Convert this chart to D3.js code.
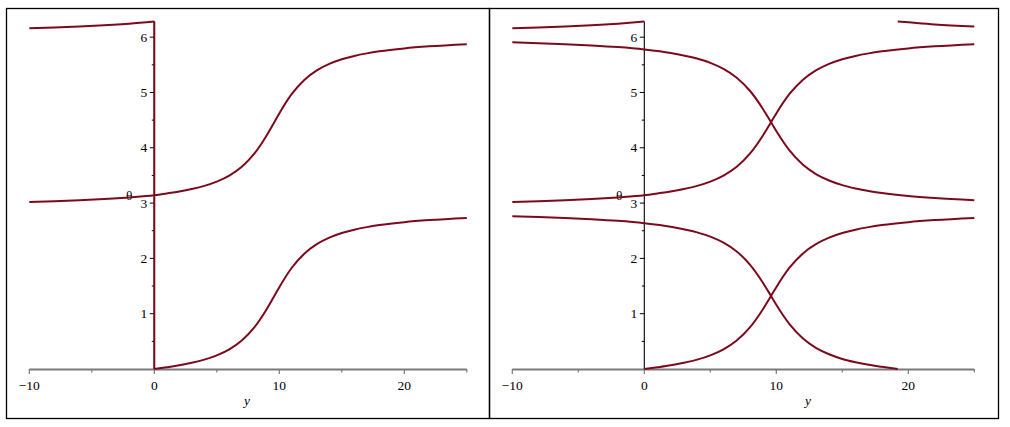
<!DOCTYPE html>
<html><head><meta charset="utf-8">
<script src="https://cdn.jsdelivr.net/npm/d3@7/dist/d3.min.js"></script>
<style>html,body{margin:0;padding:0;background:#fff;}svg{display:block;}</style>
</head><body>
<script>
// ---- data (y, theta) ----
const xTicks = [-10, 0, 10, 20];
const xMinor = [-5, 5, 15, 25];
const yTicks = [1, 2, 3, 4, 5, 6];
const yMinor = [0.5, 1.5, 2.5, 3.5, 4.5, 5.5];

// rising branch near 2π for y<0
const A_y = [-10, -8, -6, -4, -2, 0];
const A_t = [6.159, 6.173, 6.191, 6.214, 6.244, 6.283];
// rising branch through π
const B_y = [-10, -8, -6, -4, -2, 0, 1, 2, 3, 4, 5, 6, 7, 8, 9, 9.6, 10, 11, 12, 13, 14, 15, 16, 17, 18, 20, 22, 25];
const B_t = [3.018, 3.032, 3.050, 3.073, 3.103, 3.142, 3.174, 3.209, 3.254, 3.311, 3.389, 3.498, 3.657, 3.893, 4.227, 4.462, 4.621, 4.973, 5.227, 5.399, 5.516, 5.600, 5.661, 5.707, 5.744, 5.797, 5.834, 5.872];
// rising branch from 0
const C_y = [0, 1, 2, 3, 4, 5, 6, 7, 8, 9, 9.6, 10, 11, 12, 13, 14, 15, 16, 17, 18, 20, 22, 25];
const C_t = [0.000, 0.032, 0.067, 0.112, 0.169, 0.247, 0.356, 0.515, 0.751, 1.085, 1.320, 1.479, 1.831, 2.085, 2.257, 2.374, 2.458, 2.519, 2.565, 2.602, 2.655, 2.692, 2.730];
// falling branch down to 0
const D_y = [-10, -8, -6, -4, -2, 0, 2, 4, 5, 6, 7, 8, 9, 9.6, 10, 11, 12, 13, 14, 15, 16, 17, 18, 19.2];
const D_t = [2.764, 2.750, 2.732, 2.709, 2.679, 2.636, 2.573, 2.471, 2.393, 2.284, 2.125, 1.889, 1.556, 1.320, 1.161, 0.810, 0.555, 0.383, 0.266, 0.182, 0.122, 0.075, 0.039, 0.000];
// falling branch through π
const E_y = [-10, -8, -6, -4, -2, 0, 2, 4, 5, 6, 7, 8, 9, 9.6, 10, 11, 12, 13, 14, 15, 16, 17, 18, 20, 22, 25];
const E_t = [5.906, 5.892, 5.874, 5.851, 5.821, 5.778, 5.715, 5.613, 5.535, 5.426, 5.267, 5.031, 4.698, 4.462, 4.303, 3.952, 3.697, 3.525, 3.408, 3.324, 3.264, 3.217, 3.181, 3.127, 3.090, 3.052];
// falling branch near 2π after y≈19.2
const F_y = [19.2, 20, 22, 25];
const F_t = [6.283, 6.268, 6.231, 6.193];
// jump of the left-hand solution at y = 0
const J_y = [0, 0];
const J_t = [6.283, 0];

const W = 1010, H = 427;
const RED = "#7c0a1c";
const svg = d3.select("body").append("svg").attr("width", W).attr("height", H);

const zip = (a, b) => a.map((v, i) => [v, b[i]]);

function panel(opts) {
  const g = svg.append("g");
  g.append("rect").attr("x", opts.bx0 + 0.5).attr("y", 8.5)
    .attr("width", opts.bx1 - opts.bx0).attr("height", 410)
    .attr("fill", "none").attr("stroke", "#000").attr("stroke-width", 1.3);
  const x = d3.scaleLinear().domain([-10, 25]).range(opts.xr);
  const y = d3.scaleLinear().domain([0, 2 * Math.PI]).range([369, 21.5]);
  const x0 = x(0);

  // x axis
  g.append("line").attr("x1", x(-10)).attr("x2", x(25)).attr("y1", 369.5).attr("y2", 369.5)
    .attr("stroke", "#7a7a7a").attr("stroke-width", 2);
  xTicks.forEach(t => {
    g.append("line").attr("x1", x(t)).attr("x2", x(t)).attr("y1", 369).attr("y2", 374)
      .attr("stroke", "#7a7a7a").attr("stroke-width", 1.2);
    g.append("text").attr("x", x(t)).attr("y", 390).attr("text-anchor", "middle")
      .attr("font-family", "Liberation Serif").attr("font-size", 13.5).attr("fill", "#000")
      .text(t < 0 ? "\u2212" + Math.abs(t) : t);
  });
  xMinor.forEach(t => {
    g.append("line").attr("x1", x(t)).attr("x2", x(t)).attr("y1", 369).attr("y2", 372.5)
      .attr("stroke", "#7a7a7a").attr("stroke-width", 1.2);
  });
  g.append("text").attr("x", opts.labelX).attr("y", 405).attr("text-anchor", "middle")
    .attr("font-family", "Liberation Serif").attr("font-style", "italic").attr("font-size", 13.5)
    .text("y");

  // y axis
  g.append("line").attr("x1", x0).attr("x2", x0).attr("y1", y(0)).attr("y2", y(2 * Math.PI))
    .attr("stroke", "#000").attr("stroke-width", 1.1);
  yTicks.forEach(t => {
    g.append("line").attr("x1", x0 - 4.5).attr("x2", x0).attr("y1", y(t)).attr("y2", y(t))
      .attr("stroke", "#000").attr("stroke-width", 1);
    g.append("text").attr("x", x0 - 7).attr("y", y(t) + 4.5).attr("text-anchor", "end")
      .attr("font-family", "Liberation Serif").attr("font-size", 13.5).text(t);
  });
  yMinor.forEach(t => {
    g.append("line").attr("x1", x0 - 2.5).attr("x2", x0).attr("y1", y(t)).attr("y2", y(t))
      .attr("stroke", "#000").attr("stroke-width", 1);
  });
  g.append("text").attr("x", x0 - 25).attr("y", 200).attr("text-anchor", "middle")
    .attr("font-family", "Liberation Serif").attr("font-size", 13.5).text("\u03b8");

  const line = d3.line().x(d => x(d[0])).y(d => y(d[1])).curve(d3.curveMonotoneX);
  const straight = d3.line().x(d => x(d[0])).y(d => y(d[1]));
  opts.series.forEach(s => {
    g.append("path").attr("d", (s.straight ? straight : line)(s.data))
      .attr("fill", "none").attr("stroke", RED).attr("stroke-width", 2)
      .attr("stroke-linejoin", "round").attr("stroke-linecap", "butt");
  });
}

panel({
  bx0: 6, bx1: 489, xr: [29.3, 466.8], labelX: 247,
  series: [
    { data: zip(A_y, A_t) },
    { data: zip(J_y, J_t), straight: true },
    { data: zip(C_y, C_t) },
    { data: zip(B_y, B_t) }
  ]
});
panel({
  bx0: 489, bx1: 998, xr: [512.3, 974.3], labelX: 808,
  series: [
    { data: zip(A_y, A_t) },
    { data: zip(B_y, B_t) },
    { data: zip(C_y, C_t) },
    { data: zip(D_y, D_t) },
    { data: zip(E_y, E_t) },
    { data: zip(F_y, F_t) }
  ]
});
</script>
</body></html>
